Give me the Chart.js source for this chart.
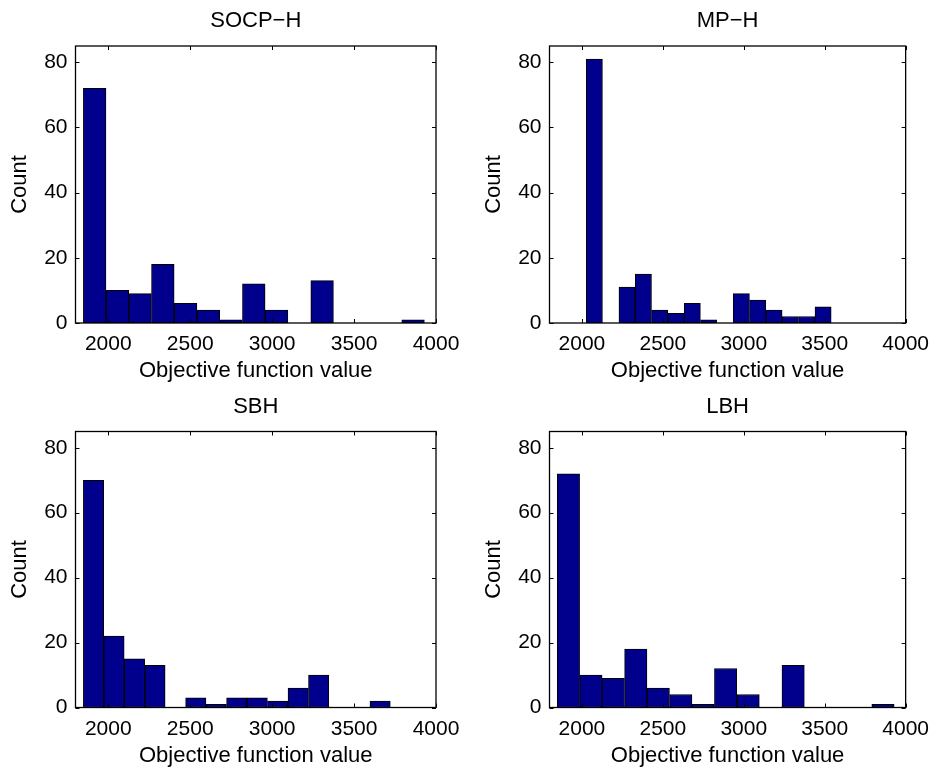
<!DOCTYPE html>
<html>
<head>
<meta charset="utf-8">
<script src="https://cdn.jsdelivr.net/npm/chart.js@4/dist/chart.umd.min.js"></script>
<style>
  body { margin: 0; background: #fff; }
  canvas { position: absolute; }
</style>
</head>
<body>
<canvas id="c1" width="469" height="384" style="left:0;top:0"></canvas>
<canvas id="c2" width="469" height="384" style="left:469px;top:0"></canvas>
<canvas id="c3" width="469" height="385" style="left:0;top:384px"></canvas>
<canvas id="c4" width="469" height="385" style="left:469px;top:384px"></canvas>
<script>
// bin centres and counts
const socpCenters = [1917, 2056, 2194, 2333, 2472, 2611, 2749, 2888, 3027, 3166, 3305, 3443, 3582, 3721, 3860];
const socpCounts  = [72, 10, 9, 18, 6, 4, 1, 12, 4, 0, 13, 0, 0, 0, 1];

const mpCenters = [2077, 2178, 2279, 2380, 2481, 2582, 2682, 2783, 2884, 2985, 3086, 3187, 3288, 3389, 3490];
const mpCounts  = [81, 0, 11, 15, 4, 3, 6, 1, 0, 9, 7, 4, 2, 2, 5];

const sbhCenters = [1910, 2035, 2160, 2285, 2410, 2534, 2659, 2784, 2909, 3034, 3159, 3284, 3409, 3534, 3659];
const sbhCounts  = [70, 22, 15, 13, 0, 3, 1, 3, 3, 2, 6, 10, 0, 0, 2];

const lbhCenters = [1917, 2056, 2194, 2333, 2472, 2611, 2749, 2888, 3027, 3166, 3305, 3443, 3582, 3721, 3860];
const lbhCounts  = [72, 10, 9, 18, 6, 4, 1, 12, 4, 0, 13, 0, 0, 0, 1];

const xTicks = [2000, 2500, 3000, 3500, 4000];
const yTicks = [0, 20, 40, 60, 80];
const xRange = [1800, 4000];
const yRange = [0, 85];

const FONT = "'Liberation Sans', Arial, Helvetica, sans-serif";
const BAR = '#00008C';

// box + inward tick marks, matlab style
const boxPlugin = {
    id: 'box',
    afterDraw(chart) {
        const ctx = chart.ctx;
        const a = chart.chartArea;
        const xs = chart.scales.x, ys = chart.scales.y;
        ctx.save();
        ctx.strokeStyle = '#000';
        ctx.lineWidth = 1;
        ctx.beginPath();
        xs.ticks.forEach(t => {
            const px = Math.round(xs.getPixelForValue(t.value)) + 0.5;
            ctx.moveTo(px, a.bottom); ctx.lineTo(px, a.bottom - 4);
            ctx.moveTo(px, a.top); ctx.lineTo(px, a.top + 4);
        });
        ys.ticks.forEach(t => {
            const py = Math.round(ys.getPixelForValue(t.value)) + 0.5;
            ctx.moveTo(a.left, py); ctx.lineTo(a.left + 4, py);
            ctx.moveTo(a.right, py); ctx.lineTo(a.right - 4, py);
        });
        ctx.stroke();
        ctx.lineWidth = 1.3;
        ctx.strokeRect(a.left, a.top, a.right - a.left, a.bottom - a.top);
        ctx.restore();
    }
};

function makeHist(id, title, centers, counts, box) {
    const canvas = document.getElementById(id);
    const W = canvas.width, H = canvas.height;
    const points = centers.map((c, i) => ({ x: c, y: counts[i] }));
    const titlePadTop = box.top - 25 - 13.2;
    return new Chart(canvas, {
        type: 'bar',
        data: {
            datasets: [{
                data: points,
                backgroundColor: BAR,
                borderColor: '#000',
                borderWidth: 1,
                borderSkipped: false,
                barPercentage: 1,
                categoryPercentage: 1
            }]
        },
        options: {
            responsive: false,
            animation: false,
            layout: { padding: { left: 0, right: W - box.right, top: 0, bottom: 0 } },
            plugins: {
                legend: { display: false },
                tooltip: { enabled: false },
                title: {
                    display: true,
                    text: title,
                    fullSize: false,
                    color: '#000',
                    font: { family: FONT, size: 22, weight: 'normal' },
                    padding: { top: titlePadTop, bottom: box.top - titlePadTop - 26.4 }
                }
            },
            scales: {
                x: {
                    type: 'linear',
                    min: xRange[0],
                    max: xRange[1],
                    offset: false,
                    grid: { display: false, drawTicks: false },
                    border: { display: false },
                    afterBuildTicks: s => { s.ticks = xTicks.map(v => ({ value: v })); },
                    afterFit: s => { s.height = H - box.bottom; },
                    ticks: {
                        color: '#000', padding: 9, maxRotation: 0, autoSkip: false,
                        font: { family: FONT, size: 21 },
                        callback: v => String(v)
                    },
                    title: {
                        display: true, text: 'Objective function value', color: '#000',
                        font: { family: FONT, size: 22 },
                        padding: { top: 0, bottom: Math.max(0, H - 13.2 - (box.bottom + 48)) }
                    }
                },
                y: {
                    min: yRange[0],
                    max: yRange[1],
                    grid: { display: false, drawTicks: false },
                    border: { display: false },
                    afterBuildTicks: s => { s.ticks = yTicks.map(v => ({ value: v })); },
                    afterFit: s => { s.width = box.left; },
                    ticks: {
                        color: '#000', padding: 8,
                        font: { family: FONT, size: 21 }
                    },
                    title: {
                        display: true, text: 'Count', color: '#000',
                        font: { family: FONT, size: 22 },
                        padding: { top: box.left - 55.3 - 13.2, bottom: 0 }
                    }
                }
            }
        },
        plugins: [boxPlugin]
    });
}

makeHist('c1', 'SOCP\u2212H', socpCenters, socpCounts, { left: 75.5, right: 436, top: 46, bottom: 323 });
makeHist('c2', 'MP\u2212H', mpCenters, mpCounts, { left: 80.5, right: 441, top: 46, bottom: 323 });
makeHist('c3', 'SBH', sbhCenters, sbhCounts, { left: 75.5, right: 436, top: 47.5, bottom: 323.5 });
makeHist('c4', 'LBH', lbhCenters, lbhCounts, { left: 80.5, right: 441, top: 47.5, bottom: 323.5 });
</script>
</body>
</html>
